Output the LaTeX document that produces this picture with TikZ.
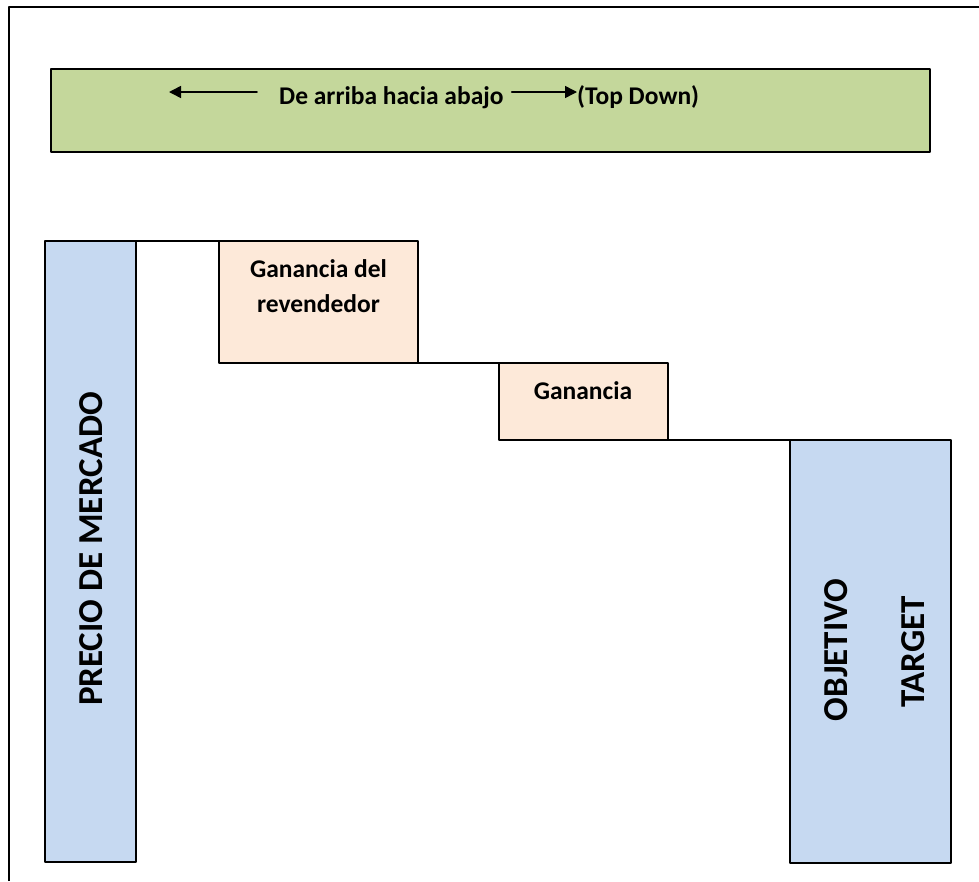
\documentclass[tikz,border=0pt]{standalone}
\usepackage{fontspec}
\setmainfont{Carlito}
\usetikzlibrary{positioning,arrows.meta}
\definecolor{verdeclaro}{HTML}{C4D79B}
\definecolor{azulclaro}{HTML}{C6D9F1}
\definecolor{durazno}{HTML}{FDE9D9}
\tikzset{
	caja/.style={draw,rectangle,line width=1.5pt,inner sep=0pt,outer sep=0pt,anchor=north west},
	texto/.style={font=\fontsize{25.5}{35}\selectfont\bfseries,inner sep=0pt},
	vertical/.style={font=\fontsize{35}{40}\selectfont\bfseries,inner sep=0pt,rotate=90,anchor=base},
	linea/.style={line width=1.5pt}
}
\begin{document}
\begin{tikzpicture}[line cap=round,line join=round,>={Triangle[length=12pt,width=12pt]},x=1pt,y=-1pt]
		\useasboundingbox (0,0) rectangle (979,881);
		\draw[line width=2pt,line cap=butt] (9,881)--(9,7)--(979,7);
		% banda superior
		\node[caja,fill=verdeclaro,minimum width=879pt,minimum height=83pt] (banda) at (51,69) {};
		\node[texto,anchor=base west] (arriba) at (279,104) {De arriba hacia abajo};
		\node[texto,anchor=base west] (topdown) at (577,104) {(Top Down)};
		\coordinate (izqini) at (257,92);
		\coordinate (izqfin) at (169,92);
		\draw[->,line width=1.5pt] (izqini)--(izqfin);
		\draw[->,line width=1.5pt] ([xshift=8pt]arriba.east |- izqini)--(topdown.west |- izqini);
		% columnas
		\node[caja,fill=azulclaro,minimum width=91pt,minimum height=621pt] (precio) at (45,241) {};
		\node[caja,fill=durazno,minimum width=199pt,minimum height=122pt] (ganrev) at (219,241) {};
		\node[caja,fill=durazno,minimum width=169pt,minimum height=77pt] (ganancia) at (499,363) {};
		\node[caja,fill=azulclaro,minimum width=161pt,minimum height=423pt] (objetivo) at (790,440) {};
		\draw[linea] (precio.north east)--(ganrev.north west);
		\draw[linea] (ganrev.south east)--(ganancia.north west);
		\draw[linea] (ganancia.south east)--(objetivo.north west);
		% textos
		\node[texto,align=center,anchor=base] (tganrev) at (318.5,312) {Ganancia del\\revendedor};
		\node[texto,anchor=base] (tganancia) at (583,399) {Ganancia};
		\node[vertical] (tprecio) at (102,549) {PRECIO DE MERCADO};
		\node[vertical] (tobjetivo) at (847,650) {OBJETIVO};
		\node[vertical] (ttarget) at (924,652) {TARGET};
\end{tikzpicture}
\end{document}
